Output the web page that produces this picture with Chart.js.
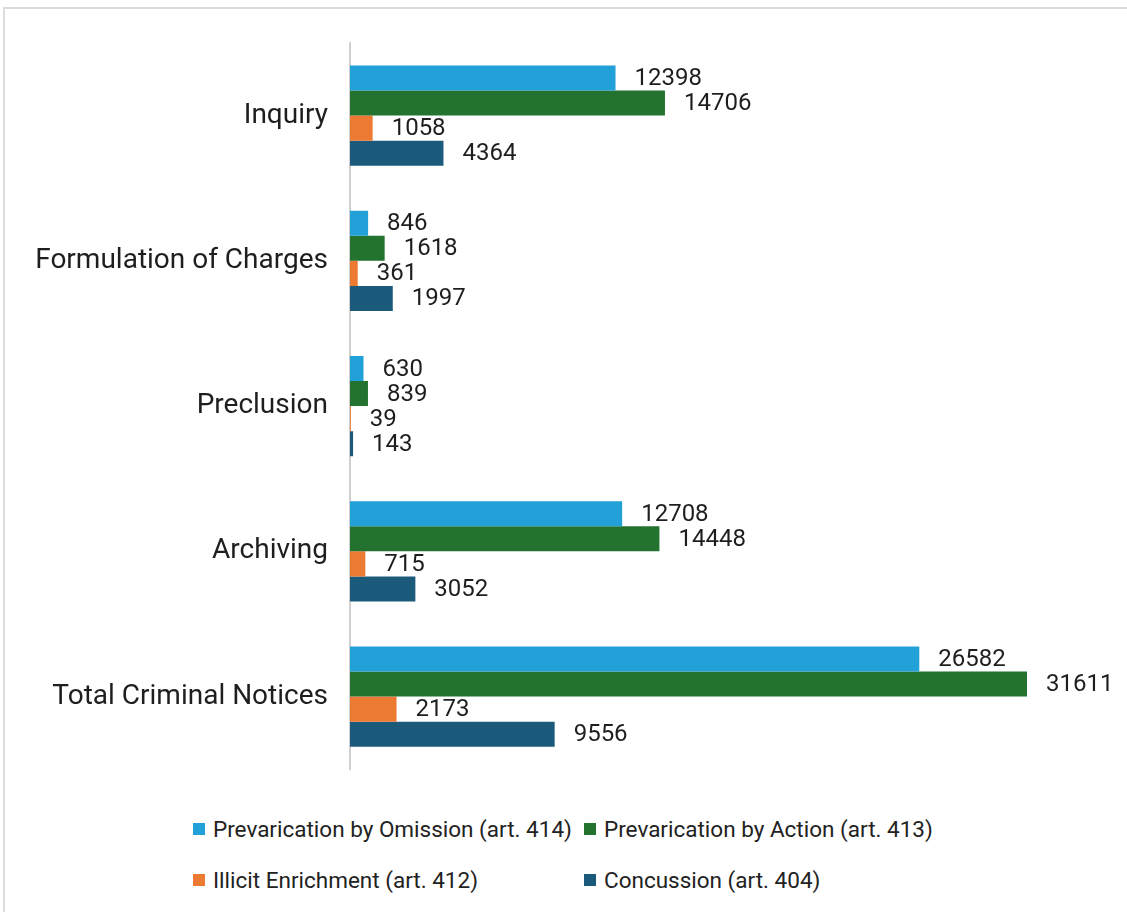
<!DOCTYPE html>
<html>
<head>
<meta charset="utf-8">
<script src="https://cdn.jsdelivr.net/npm/chart.js@4.4.1/dist/chart.umd.min.js"></script>
<style>
  html, body { margin: 0; padding: 0; background: #fff; }
  body { width: 1127px; height: 912px; position: relative; overflow: hidden; font-family: Roboto, "Noto Sans", sans-serif; }
  .frame { position: absolute; left: 3px; top: 7px; right: -5px; bottom: -5px; border-top: 2px solid #dcdcdc; border-left: 2px solid #dcdcdc; }
  .wrap { position: absolute; left: 0; top: 0; width: 1127px; height: 800px; }
  #legend { position: absolute; left: 193px; top: 815px; display: grid; grid-template-columns: 391px 391px; row-gap: 23px; font-size: 22.5px; color: #222; }
  #legend .item { display: flex; align-items: center; height: 28px; white-space: nowrap; }
  #legend .box { width: 12px; height: 12px; margin-right: 8px; }
</style>
</head>
<body>
<div class="frame"></div>
<div class="wrap"><canvas id="c"></canvas></div>
<div id="legend"></div>
<script>
// categories and series
const categories = ['Inquiry', 'Formulation of Charges', 'Preclusion', 'Archiving', 'Total Criminal Notices'];
const seriesNames = [
  'Prevarication by Omission (art. 414)',
  'Prevarication by Action (art. 413)',
  'Illicit Enrichment (art. 412)',
  'Concussion (art. 404)'
];
const omission   = [12398, 846, 630, 12708, 26582];
const action     = [14706, 1618, 839, 14448, 31611];
const enrichment = [1058, 361, 39, 715, 2173];
const concussion = [4364, 1997, 143, 3052, 9556];
const colors = ['#22a0d8', '#23722f', '#ec7a32', '#1c5a7c'];

const allSeries = [omission, action, enrichment, concussion];

const labelPlugin = {
  id: 'barValues',
  afterDatasetsDraw(chart) {
    const ctx = chart.ctx;
    ctx.save();
    ctx.font = '24px Roboto, "Noto Sans", sans-serif';
    ctx.fillStyle = '#1e1e1e';
    ctx.textAlign = 'left';
    ctx.textBaseline = 'middle';
    chart.data.datasets.forEach((ds, i) => {
      const meta = chart.getDatasetMeta(i);
      meta.data.forEach((bar, j) => {
        ctx.fillText(String(ds.data[j]), bar.x + 19, bar.y + 1);
      });
    });
    ctx.restore();
  }
};

const chart = new Chart(document.getElementById('c').getContext('2d'), {
  type: 'bar',
  data: {
    labels: categories,
    datasets: seriesNames.map((name, i) => ({
      label: name,
      data: allSeries[i],
      backgroundColor: colors[i],
      borderWidth: 0,
      barPercentage: 1,
      categoryPercentage: 0.69,
    })),
  },
  options: {
    indexAxis: 'y',
    responsive: true,
    maintainAspectRatio: false,
    animation: false,
    layout: { padding: { top: 43, bottom: 18, left: 0, right: 6 } },
    plugins: {
      legend: { display: false },
      tooltip: { enabled: false },
    },
    scales: {
      x: {
        display: false,
        min: 0,
        max: 36000,
      },
      y: {
        grid: { display: false },
        border: { display: true, color: '#cfcfcf', width: 2 },
        ticks: {
          color: '#1e1e1e',
          padding: 14,
          font: { family: 'Roboto, "Noto Sans", sans-serif', size: 28 },
        },
        afterFit(scale) { scale.width = 350; },
      },
    },
  },
  plugins: [labelPlugin],
});

// legend laid out in two columns like the original
const legend = document.getElementById('legend');
seriesNames.forEach((name, i) => {
  const item = document.createElement('div');
  item.className = 'item';
  const box = document.createElement('span');
  box.className = 'box';
  box.style.background = colors[i];
  const txt = document.createElement('span');
  txt.textContent = name;
  item.appendChild(box);
  item.appendChild(txt);
  legend.appendChild(item);
});
</script>
</body>
</html>
